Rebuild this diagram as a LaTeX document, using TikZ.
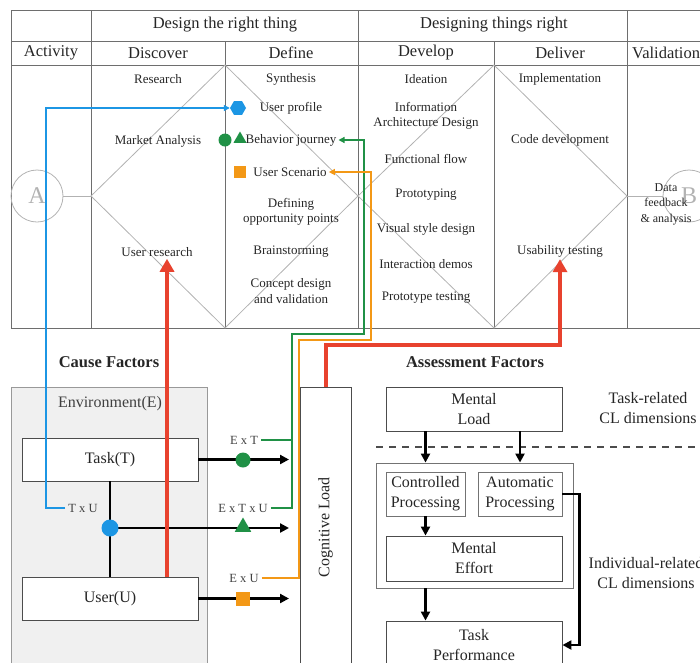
\documentclass[tikz,border=0pt]{standalone}
\usepackage{fontspec}
\setmainfont{Liberation Serif}
\usetikzlibrary{arrows.meta,shapes.geometric}
\pgfdeclarelayer{bg}
\pgfsetlayers{bg,main}

\definecolor{cfblue}{RGB}{28,150,228}
\definecolor{cfgreen}{RGB}{32,145,70}
\definecolor{cforange}{RGB}{243,152,22}
\definecolor{cfred}{RGB}{232,66,46}
\definecolor{envgray}{RGB}{240,240,240}
\definecolor{gridgray}{RGB}{110,110,110}
\definecolor{diagray}{RGB}{178,178,178}

\tikzset{
  tabline/.style={draw=gridgray, line width=0.8pt},
  diam/.style={draw=diagray, line width=0.8pt},
  ring/.style={circle, draw=diagray, line width=0.8pt, minimum size=52pt, inner sep=0pt,
    text=diagray, font=\fontsize{24}{24}\selectfont},
  head/.style={font=\fontsize{16.5}{19}\selectfont, text=black!85},
  cell/.style={font=\fontsize{13}{15.5}\selectfont, align=center, text=black!85, inner sep=2pt},
  plain/.style={font=\fontsize{16}{20}\selectfont, align=center, text=black!85},
  title/.style={font=\bfseries\fontsize{16.5}{20}\selectfont, text=black!85},
  small/.style={font=\fontsize{12.5}{14}\selectfont, text=black!75, inner sep=3pt},
  fbox/.style={draw=black!70, line width=0.9pt, fill=white, align=center,
    font=\fontsize{16}{20}\selectfont, text=black!85, inner sep=0pt},
  flow/.style={line width=2.4pt, -{Triangle[length=9pt,width=9pt]}},
  cfarrow/.style={line width=1.3pt, -{Triangle[length=6pt,width=6pt]}},
  cfline/.style={line width=1.3pt},
  redarrow/.style={draw=cfred, line width=3.5pt, -{Triangle[length=13pt,width=14pt]}},
  marker/.style={inner sep=0pt, draw=none}
}

\begin{document}
\begin{tikzpicture}[x=1pt, y=-1pt]
  \useasboundingbox (0,0) rectangle (700,662);
  \clip (0,0) rectangle (700,662);

  \draw[tabline] (11,10) -- (705,10) (11,41) -- (705,41) (11,65) -- (705,65) (11,328) -- (705,328);
  \draw[tabline] (11,10) -- (11,328) (91,10) -- (91,328) (358,10) -- (358,328) (627,10) -- (627,328)
    (225,41) -- (225,328) (494,41) -- (494,328);

  \coordinate (d1w) at (91,196);
  \coordinate (d2w) at (358,196);
  \coordinate (d2e) at (627,196);
  \draw[diam] (d1w) -- (225,65) -- (d2w) -- (225,328) -- cycle;
  \draw[diam] (d2w) -- (494,65) -- (d2e) -- (494,328) -- cycle;

  \node[ring] (A) at (37,196) {A};
  \node[ring] (B) at (689,196) {B};
  \draw[diam] (A) -- (d1w);
  \draw[diam] (B) -- (d2e);

  \node[head] (right1) at (225,25) {Design the right thing};
  \node[head] (right2) at (494,25) {Designing things right};
  \node[head] (activity) at (51,53) {Activity};
  \node[head] (discover) at (158,53) {Discover};
  \node[head] (define) at (291,53) {Define};
  \node[head] (develop) at (426,53) {Develop};
  \node[head] (deliver) at (560,53) {Deliver};
  \node[head, anchor=west, inner sep=0pt] (validation) at (632,53) {Validation};

  \node[cell] (research) at (158,79) {Research};
  \node[cell] (market) at (158,141) {Market Analysis};
  \node[cell] (userres) at (157,252) {User research};

  \node[cell] (synth) at (291,79) {Synthesis};
  \node[cell] (profile) at (291,108) {User profile};
  \node[cell] (journey) at (291,140) {Behavior journey};
  \node[cell] (scenario) at (290,172) {User Scenario};
  \node[cell] (defining) at (291,212) {Defining\\opportunity points};
  \node[cell] (brain) at (291,252) {Brainstorming};
  \node[cell] (concept) at (291,291) {Concept design\\and validation};

  \node[cell] (ideation) at (426,79) {Ideation};
  \node[cell] (infoarch) at (426,116) {Information\\Architecture Design};
  \node[cell] (funcflow) at (426,159) {Functional flow};
  \node[cell] (proto) at (426,195) {Prototyping};
  \node[cell] (visual) at (426,229) {Visual style design};
  \node[cell] (interact) at (426,264) {Interaction demos};
  \node[cell] (prototest) at (426,298) {Prototype testing};

  \node[cell] (implement) at (560,79) {Implementation};
  \node[cell] (codedev) at (560,140) {Code development};
  \node[cell] (usability) at (560,251) {Usability testing};

  \node[cell, font=\fontsize{12}{15.5}\selectfont] (datafb) at (666,204) {Data\\feedback\\\& analysis};

  \node[title] (cause) at (109,362) {Cause Factors};
  \begin{pgfonlayer}{bg}
    \node[draw=black!40, fill=envgray, line width=0.8pt, minimum width=196pt, minimum height=300pt,
      anchor=north west, inner sep=0pt] (env) at (11,387) {};
  \end{pgfonlayer}
  \node[plain, text=black!75] (envlabel) at (110,404) {Environment(E)};
  \node[fbox, minimum width=176pt, minimum height=43pt] (task) at (110,459.5) {Task(T)};
  \node[fbox, minimum width=176pt, minimum height=43pt] (user) at (110,598.5) {User(U)};
  \node[fbox, minimum width=51pt, minimum height=300pt, anchor=north west] (cog) at (300,387) {};
  \node[plain, rotate=90] (coglabel) at (325.5,527) {Cognitive Load};

  \node[small] (ext) at (244,440) {E x T};
  \node[small] (extu) at (243,508) {E x T x U};
  \node[small] (exu) at (244,578) {E x U};
  \node[small] (tu) at (83,508) {T x U};

  \node[title] (assess) at (475,362) {Assessment Factors};
  \node[fbox, minimum width=176pt, minimum height=44pt] (mload) at (474,409) {Mental\\Load};
  \node[plain] (taskdim) at (648,408) {Task-related\\CL dimensions};
  \coordinate (dash0) at (376,447);
  \coordinate (dash1) at (705,447);
  \draw[black!70, line width=1.2pt, dash pattern=on 7pt off 6pt] (dash0) -- (dash1);
  \node[fbox, draw=black!55, minimum width=197pt, minimum height=125pt] (procgroup) at (474.5,525.5) {};
  \node[fbox, draw=black!55, minimum width=79pt, minimum height=44pt] (ctrl) at (425.5,494) {Controlled\\Processing};
  \node[fbox, draw=black!55, minimum width=84pt, minimum height=44pt] (auto) at (520,494) {Automatic\\Processing};
  \node[fbox, minimum width=176pt, minimum height=45pt] (effort) at (474,558.5) {Mental\\Effort};
  \node[fbox, minimum width=176pt, minimum height=48pt] (perf) at (474,645) {Task\\Performance};
  \node[plain] (indivdim) at (646,573) {Individual-related\\CL dimensions};

  \draw[flow] (mload.south -| ctrl) -- (ctrl |- procgroup.north);
  \draw[flow] (mload.south -| auto) -- (auto |- procgroup.north);
  \draw[flow] (ctrl.south) -- (effort.north -| ctrl);
  \draw[flow] (procgroup.south -| ctrl) -- (perf.north -| ctrl);
  \draw[flow] (auto.east) -- ++(17,0) |- (perf.east);

  \coordinate (tudot) at (110,528);
  \draw[line width=2.4pt] (task.south) -- (user.north);
  \draw[flow, shorten >=11pt] (task.east) -- (task.east -| cog.west);
  \draw[flow, shorten >=11pt] (tudot) -- (tudot -| cog.west);
  \draw[flow, shorten >=11pt] (user.east) -- (user.east -| cog.west);

  \node[marker, regular polygon, regular polygon sides=6, fill=cfblue, minimum size=16pt] (hex) at (238,108) {};
  \node[marker, circle, fill=cfgreen, minimum size=13pt] (gdot) at (225,140) {};
  \node[marker, regular polygon, regular polygon sides=3, fill=cfgreen, minimum size=15pt] (gtri) at (240,139) {};
  \node[marker, rectangle, fill=cforange, minimum size=12pt] (osq) at (240,172) {};

  \coordinate (bk) at (46,108);
  \draw[cfarrow, cfblue] (tu.west) -| (bk) -- (hex.west);
  \coordinate (gk) at (292,334);
  \coordinate (gtop) at (364,334);
  \draw[cfarrow, cfgreen] (ext.east) -| (gk) -- (gtop) |- (journey.east);
  \draw[cfline, cfgreen] (extu.east) -| (gk);
  \coordinate (ok) at (299,340);
  \coordinate (otop) at (371,340);
  \draw[cfarrow, cforange] (exu.east) -| (ok) -- (otop) |- (scenario.east);

  \coordinate (r1) at (167,577);
  \draw[redarrow] (r1) -- (r1 |- userres.south);
  \coordinate (rk) at (560,345);
  \draw[redarrow] (cog.north) |- (rk) -- (usability.south);

  \node[marker, circle, fill=cfblue, minimum size=17pt] (tudotmark) at (tudot) {};
  \node[marker, circle, fill=cfgreen, minimum size=15pt] (gdot2) at (243,460) {};
  \node[marker, regular polygon, regular polygon sides=3, fill=cfgreen, minimum size=19pt] (gtri2) at (243,527) {};
  \node[marker, rectangle, fill=cforange, minimum size=14pt] (osq2) at (243,598.5) {};
\end{tikzpicture}
\end{document}
